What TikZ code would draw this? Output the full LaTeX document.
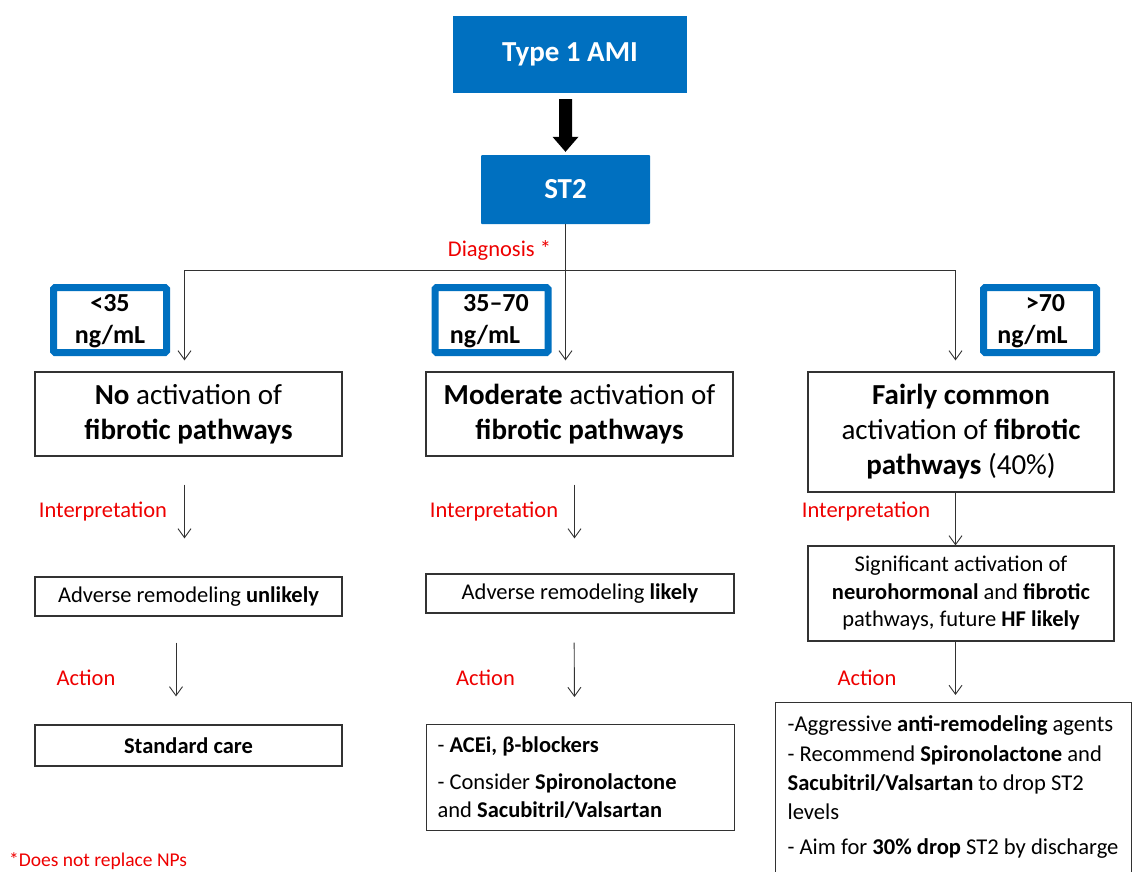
\documentclass[tikz,border=0pt]{standalone}
\usepackage{fontspec}
\setmainfont{Carlito}
\usetikzlibrary{arrows.meta,calc}
\definecolor{pblue}{RGB}{0,112,192}
\definecolor{pred}{RGB}{238,0,0}
\definecolor{lgray}{RGB}{50,50,50}
\newcommand\fbig{\fontsize{29}{35}\selectfont}
\newcommand\fmid{\fontsize{26}{32}\selectfont}
\newcommand\fsm{\fontsize{22.5}{28}\selectfont}
\newcommand\ffoot{\fontsize{19.5}{23}\selectfont}
\begin{document}
\begin{tikzpicture}[x=1pt,y=-1pt,
  tile/.style={fill=pblue, draw=none, text=white, font=\fbig\bfseries, inner sep=0pt},
  rng/.style={draw=pblue, line width=7pt, rounded corners=1.5pt, minimum width=113pt, minimum height=65pt, inner sep=0pt, font=\fmid\bfseries, align=center},
  bigbox/.style={draw=lgray, line width=1.2pt, minimum width=307pt, inner sep=0pt, font=\fbig, align=center},
  smbox/.style={draw=lgray, line width=1.2pt, minimum width=307pt, inner sep=0pt, font=\fsm, align=center},
  lbl/.style={text=pred, font=\fsm, inner sep=0pt},
  conn/.style={draw=lgray, line width=0.9pt},
  arr/.style={conn, -{Straight Barb[length=9pt,width=13pt]}},
]
\path[use as bounding box] (0,0) rectangle (1132,871);
\clip (0,0) rectangle (1132,871);

% top tiles
\node[tile, minimum width=234pt, minimum height=77pt] (t1) at (570,54.5) {Type 1 AMI};
\node[tile, minimum width=169pt, minimum height=69pt, rounded corners=1pt] (st2) at (565.5,189.5) {ST2};
\node[lbl] (dg) at (499.5,250) {Diagnosis *};

% junction points
\coordinate (jl) at (184.5,270);
\coordinate (jr) at (955.5,270);
\coordinate (ta) at (st2.north |- t1.south);

% range boxes
\node[rng] (b1) at (110,320) {\rule{0pt}{20pt}<35\\ng/mL};
\node[rng] (b2) at (491.5,320) {\rule{0pt}{20pt}\hspace*{9pt}35–70\\ng/mL\hspace*{13pt}};
\node[rng] (b3) at (1040,320) {\rule{0pt}{20pt}\hspace*{11pt}>70\\ng/mL\hspace*{15pt}};

% level 2
\node[bigbox, minimum height=84pt] (n2) at (188.5,414) {\textbf{No} activation of\\\textbf{fibrotic pathways}};
\node[bigbox, minimum height=84pt] (m2) at (579.5,414) {\textbf{Moderate} activation of\\\textbf{fibrotic pathways}};
\node[bigbox, minimum width=306pt, minimum height=120pt] (r2) at (961,432) {\textbf{Fairly common}\\activation of \textbf{fibrotic}\\\textbf{pathways} (40\%)};

% labels
\node[lbl] (i1) at (103,511.7) {Interpretation};
\node[lbl] (i2) at (494,511.7) {Interpretation};
\node[lbl] (i3) at (866,511.7) {Interpretation};
\node[lbl] (a1) at (86,678) {Action};
\node[lbl] (a2) at (485.5,678) {Action};
\node[lbl] (a3) at (867,678) {Action};

% level 3
\node[smbox, minimum height=39pt] (n3) at (188.5,596.5) {Adverse remodeling \textbf{unlikely}};
\node[smbox, minimum width=308pt, minimum height=39pt] (m3) at (580,593.5) {Adverse remodeling \textbf{likely}};
\node[smbox, minimum width=306pt, minimum height=95pt, font=\fontsize{22.5}{27.5}\selectfont] (r3) at (961,593.5) {Significant activation of\\\textbf{neurohormonal} and \textbf{fibrotic}\\pathways, future \textbf{HF likely}};

% level 4
\node[smbox, minimum height=41pt] (n4) at (188.5,745.5) {\textbf{Standard care}};
\node[smbox, anchor=north west, align=flush left, text width=286pt, inner xsep=11pt, minimum height=106pt] (m4) at (426,724)
  {- \textbf{ACEi, β-blockers}\\[9pt]- Consider \textbf{Spironolactone}\\and \textbf{Sacubitril/Valsartan}};
\node[smbox, anchor=north west, align=flush left, text width=344pt, inner xsep=6pt, inner ysep=12.5pt, font=\fontsize{22.6}{29}\selectfont] (r4) at (775,702)
  {\hspace*{6pt}\mbox{-Aggressive \textbf{anti-remodeling} agents}\\[1pt]\hspace*{6pt}\mbox{- Recommend \textbf{Spironolactone} and}\\\hspace*{6pt}\mbox{\textbf{Sacubitril/Valsartan} to drop ST2}\\\hspace*{6pt}levels\\[6pt]\hspace*{6pt}\mbox{- Aim for \textbf{30\% drop} ST2 by discharge}\rule[-60pt]{0pt}{1pt}};

% footnote
\node[lbl, font=\ffoot, anchor=base west] (fn) at (9,866.5) {*Does not replace NPs};

% thick arrow
\fill[black] ($(ta)+(-6.5,6)$) -- ($(ta)+(6.5,6)$) -- ($(st2.north)+(6.5,-18)$) -- ($(st2.north)+(13,-18)$)
  -- ($(st2.north)+(0,-3)$) -- ($(st2.north)+(-13,-18)$) -- ($(st2.north)+(-6.5,-18)$) -- cycle;

% connectors
\draw[conn] (jl) -- (jr);
\draw[arr, shorten >=11pt] (st2.south) -- (st2.south |- m2.north);
\draw[arr, shorten >=11pt] (jl) -- (jl |- n2.north);
\draw[arr, shorten >=11pt] (jr) -- (jr |- r2.north);

\draw[arr, shorten <=28pt, shorten >=38pt] (jl |- n2.south) -- (jl |- n3.north);
\draw[arr, shorten <=28pt, shorten >=35pt] ($(m2.south)+(-5,0)$) -- ($(m3.north)+(-5.5,0)$);
\draw[arr] (jr |- r2.south) -- (jr |- r3.north);

\draw[arr, shorten <=26pt, shorten >=28pt] ($(n3.south)+(-12.5,0)$) -- ($(n4.north)+(-12.5,0)$);
\draw[arr, shorten <=29pt, shorten >=27pt] ($(m3.south)+(-6,0)$) -- ($(m4.north)+(-6,0)$);
\draw[arr, shorten >=7pt] (jr |- r3.south) -- (jr |- r4.north);
\end{tikzpicture}
\end{document}
